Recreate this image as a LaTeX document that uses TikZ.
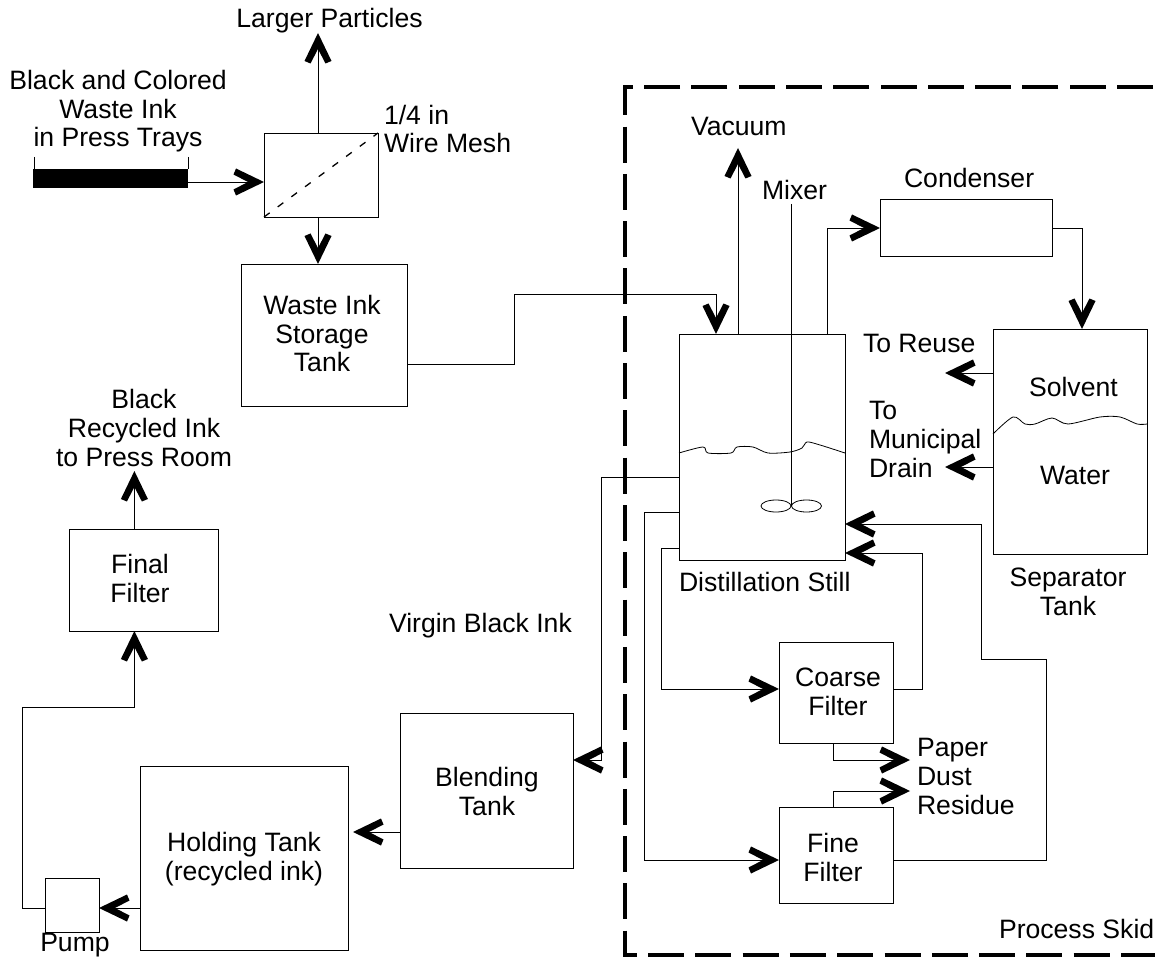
\documentclass[tikz,border=0pt]{standalone}
\usepackage{fontspec}
\setmainfont{Liberation Sans}
\usetikzlibrary{arrows.meta}
\pgfdeclarearrow{
  name=Chev,
  setup code={
    \pgfarrowssettipend{0pt}
    \pgfarrowssetlineend{-14pt}
    \pgfarrowssetvisualbackend{-30pt}
    \pgfarrowssetbackend{-30pt}
    \pgfarrowshullpoint{0pt}{0pt}
    \pgfarrowshullpoint{-30pt}{13pt}
    \pgfarrowshullpoint{-30pt}{-13pt}
  },
  drawing code={
    \pgfpathmoveto{\pgfpoint{0pt}{0pt}}
    \pgfpathlineto{\pgfpoint{-28pt}{13.5pt}}
    \pgfpathlineto{\pgfpoint{-30.5pt}{7.5pt}}
    \pgfpathlineto{\pgfpoint{-16pt}{0pt}}
    \pgfpathlineto{\pgfpoint{-30.5pt}{-7.5pt}}
    \pgfpathlineto{\pgfpoint{-28pt}{-13.5pt}}
    \pgfpathclose
    \pgfusepathqfill
  },
  defaults={}
}
\tikzset{
  x=1pt,y=-1pt,
  thin line/.style={line width=0.9pt,black},
  flow/.style={thin line,-{Chev}},
  pipe/.style={thin line},
  tank/.style={draw,thin line,rectangle,inner sep=0pt,outer sep=0pt},
  lbl/.style={inner sep=0pt,outer sep=0pt,font=\fontsize{26.6}{28.7}\selectfont,align=center,anchor=base},
  lbll/.style={lbl,align=left,anchor=base west},
  skid/.style={line width=4pt,black,dash pattern=on 36pt off 11.3pt},
}
\begin{document}
\begin{tikzpicture}
\useasboundingbox (0,0) rectangle (1159,957);
% boxes
\node[tank,minimum width=114pt,minimum height=84pt] (mesh) at (321,175) {};
\node[tank,minimum width=166pt,minimum height=142pt] (waste) at (324,335) {};
\node[tank,minimum width=166pt,minimum height=226pt] (still) at (762,447) {};
\node[tank,minimum width=172pt,minimum height=57pt] (cond) at (966,227.5) {};
\node[tank,minimum width=154pt,minimum height=225pt] (sep) at (1070,441.5) {};
\node[tank,minimum width=114pt,minimum height=101pt] (coarse) at (836,692.5) {};
\node[tank,minimum width=114pt,minimum height=96pt] (fine) at (836,855) {};
\node[tank,minimum width=173pt,minimum height=155pt] (blend) at (486.5,790.5) {};
\node[tank,minimum width=208pt,minimum height=184pt] (hold) at (244,858) {};
\node[tank,minimum width=54pt,minimum height=54pt] (pump) at (72,905) {};
\node[tank,minimum width=149pt,minimum height=102pt] (final) at (143.5,580) {};
\node[fill=black,inner sep=0pt,outer sep=0pt,minimum width=155pt,minimum height=19pt] (tray) at (110.5,178.5) {};
% tray walls
\coordinate (trayL) at (34,157);
\coordinate (trayR) at (188,157);
\draw[pipe] (trayL) -- (trayL |- tray.north);
\draw[pipe] (trayR) -- (trayR |- tray.north);
% free ends
\coordinate (larger) at (318,33);
\coordinate (vac) at (738,148);
\coordinate (reuse) at (945,373);
\coordinate (drain) at (945,467);
\coordinate (pd1) at (910,760);
\coordinate (pd2) at (910,791);
\coordinate (press) at (134.4,471);
\coordinate (mixtop) at (791.5,204);
\coordinate (hub) at (791.5,506);
\coordinate (holdtip) at (353,832);
% connectors
\draw[flow] (tray.east |- 0,182) -- (mesh.west |- 0,182);
\draw[flow] (mesh.north -| larger) -- (larger);
\draw[flow] (mesh.south -| larger) -- (waste.north -| larger);
\draw[thin line,dash pattern=on 7pt off 10pt,line width=1.3pt] (mesh.south west) -- (mesh.north east);
\draw[flow] (waste.east |- 0,364) -| (514,294) -| (716,0 |- still.north);
\draw[flow] (still.north -| vac) -- (vac);
\draw[pipe,line width=1.2pt] (mixtop) -- (hub);
\draw[flow] (still.north -| 827,0) |- (cond.west |- 0,228);
\draw[flow] (cond.east |- 0,228) -| (1082,0 |- sep.north);
\draw[flow] (sep.west |- reuse) -- (reuse);
\draw[flow] (sep.west |- drain) -- (drain);
\draw[flow] (still.west |- 0,477) -| (601.5,760) -- (blend.east |- 0,760);
\draw[flow] (blend.west |- holdtip) -- (holdtip);
\draw[flow] (still.west |- 0,512) -| (644,860) -- (fine.west |- 0,860);
\draw[flow] (still.west |- 0,548) -| (661,689) -- (coarse.west |- 0,689);
\draw[flow] (coarse.east |- 0,689) -| (922,553) -- (still.east |- 0,553);
\draw[flow] (fine.east |- 0,860) -| (1046.5,659) -| (981,524) -- (still.east |- 0,524);
\draw[flow] (coarse.south -| 833,0) |- (pd1);
\draw[flow] (fine.north -| 833,0) |- (pd2);
\draw[flow] (hold.west |- 0,908) -- (pump.east |- 0,908);
\draw[flow] (pump.west |- 0,908) -| (22,707) -| (134.4,0 |- final.south);
\draw[flow] (final.north -| press) -- (press);
% impeller
\draw[pipe,line width=0.8pt] (776,506) ellipse (15 and 6);
\draw[pipe,line width=0.8pt] (806.5,506) ellipse (15 and 6);
% liquid levels
\draw[pipe,line width=0.8pt,smooth,tension=0.5] plot coordinates {(679,453) (703,447) (708,453) (731,453) (737,447) (753,447) (768,453) (790,452) (802,448) (807,442) (820,445) (845,453)};
\draw[pipe,line width=0.8pt,smooth,tension=0.5] plot coordinates {(993,434) (1013,417) (1025,424) (1035,424) (1052,418) (1068,424) (1100,417) (1120,417) (1137,424) (1147,424)};
% process skid
\coordinate (skidA) at (1153,87);
\coordinate (skidB) at (625,87);
\coordinate (skidC) at (625,955);
\coordinate (skidD) at (1155,955);
\draw[skid] (skidA) -- (skidB) -- (skidC) -- (skidD);
% labels
\node[lbl] (tLarger) at (329.5,28) {Larger Particles};
\node[lbl] (tBlack) at (118,147) {Black and Colored\\Waste Ink\\in Press Trays};
\node[lbll] (tMesh) at (384,153) {1/4 in\\Wire Mesh};
\node[lbl] (tWaste) at (322,372) {Waste Ink\\Storage\\Tank};
\node[lbll] (tVac) at (691,136) {Vacuum};
\node[lbll] (tMix) at (762,200) {Mixer};
\node[lbll] (tCond) at (904,188) {Condenser};
\node[lbll] (tReuse) at (863,353) {To Reuse};
\node[lbll] (tDrain) at (869,477) {To\\Municipal\\Drain};
\node[lbll] (tSolv) at (1029,396) {Solvent};
\node[lbll] (tWater) at (1040,484) {Water};
\node[lbll] (tStill) at (679,591) {Distillation Still};
\node[lbl] (tSep) at (1068,615) {Separator\\Tank};
\node[lbl] (tCoarse) at (838,715) {Coarse\\Filter};
\node[lbll] (tPaper) at (917,814) {Paper\\Dust\\Residue};
\node[lbl] (tFine) at (833,881) {Fine\\Filter};
\node[lbll] (tSkid) at (999,938) {Process Skid};
\node[lbl] (tBlend) at (487,815) {Blending\\Tank};
\node[lbl] (tHold) at (244,880) {Holding Tank\\(recycled ink)};
\node[lbl] (tPump) at (75,951.5) {Pump};
\node[lbl] (tFinal) at (140,602) {Final\\Filter};
\node[lbl] (tPress) at (144,466) {Black\\Recycled Ink\\to Press Room};
\node[lbll] (tVirgin) at (389,632) {Virgin Black Ink};
\end{tikzpicture}
\end{document}
